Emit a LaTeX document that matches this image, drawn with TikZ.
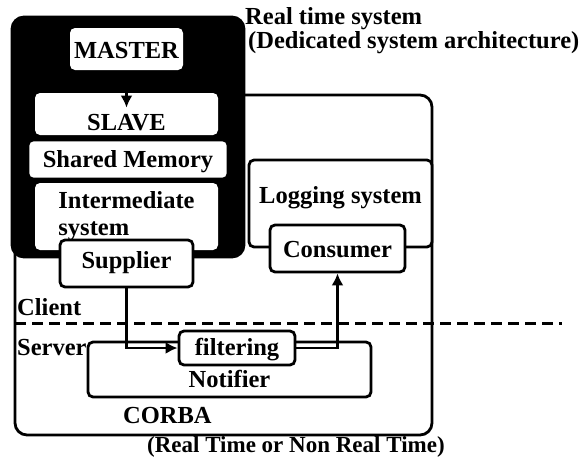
\documentclass[tikz,border=0pt]{standalone}
\usepackage{fontspec}
\setmainfont{Liberation Serif}
\usetikzlibrary{positioning,arrows.meta}
\tikzset{
  flow/.style={-{Latex[length=12pt,width=12pt]},line width=2.4pt},
  box/.style={draw,fill=white,line width=2.8pt,rounded corners=5pt,inner sep=0pt,
    font=\fontsize{24.5}{21}\selectfont\bfseries},
  rtbox/.style={box,draw=none},
  lift/.style={text height=#1,text depth=0pt},
  frame/.style={draw,line width=2.8pt,rounded corners=12pt,inner sep=0pt},
  tag/.style={inner sep=0pt,anchor=base west,font=\fontsize{24.5}{21}\selectfont\bfseries},
  split/.style={line width=3pt,dash pattern=on 11pt off 6pt}
}
\begin{document}
\begin{tikzpicture}[x=1pt,y=-1pt]
  \useasboundingbox (0,0) rectangle (582,459);
  % containers
  \node[frame,minimum width=417pt,minimum height=340pt] (corba) at (223.5,265) {};
  \node[frame,draw=black,fill=black,minimum width=232pt,minimum height=240pt] (rts) at (128,137) {};
  % real time side
  \node[rtbox,lift=18pt,minimum width=113pt,minimum height=42pt] (master) at (126.5,49) {MASTER};
  \node[rtbox,lift=32pt,minimum width=183pt,minimum height=42pt] (slave) at (126.5,114) {SLAVE};
  \node[box,lift=15pt,minimum width=200pt,minimum height=39pt] (shmem) at (128,159.5) {Shared Memory};
  \node[rtbox,align=left,font=\fontsize{24.5}{27}\selectfont\bfseries,
    minimum width=183pt,minimum height=67pt] (inter) at (126.5,216.5) {Intermediate\\system};
  \node[box,lift=9pt,minimum width=133pt,minimum height=47pt] (supplier) at (126.5,263.5) {Supplier};
  % logging side
  \node[box,lift=0pt,minimum width=183pt,minimum height=87pt] (logsys) at (340.5,203.5) {Logging system};
  \node[box,lift=17pt,minimum width=135pt,minimum height=47pt] (consumer) at (337.5,248.5) {Consumer};
  % event channel
  \node[box,lift=35pt,minimum width=283pt,minimum height=55pt] (notifier) at (229.5,369.5) {Notifier};
  \node[box,lift=14pt,minimum width=116pt,minimum height=34pt] (filtering) at (237,348) {filtering};
  % labels
  \node[tag,align=left] (rtname) at (245,48) {Real time system\\\hspace*{3pt}(Dedicated system architecture)};
  \node[tag] (client) at (17,315) {Client};
  \node[tag] (server) at (17,355) {Server};
  \node[tag] (corbaname) at (123,423) {CORBA};
  \node[tag,font=\fontsize{23}{21}\selectfont\bfseries] (corbamode) at (147,452) {(Real Time or Non Real Time)};
  % client/server border
  \coordinate (splitL) at (15,323);
  \coordinate (splitR) at (562,323);
  \draw[split] (splitL) -- (splitR);
  % connectors
  \draw[flow] (master.south) -- ([yshift=-16pt]slave.north);
  \draw[flow] (supplier.south) |- (filtering.west);
  \draw[flow] (filtering.east) -| (consumer.south);
\end{tikzpicture}
\end{document}
